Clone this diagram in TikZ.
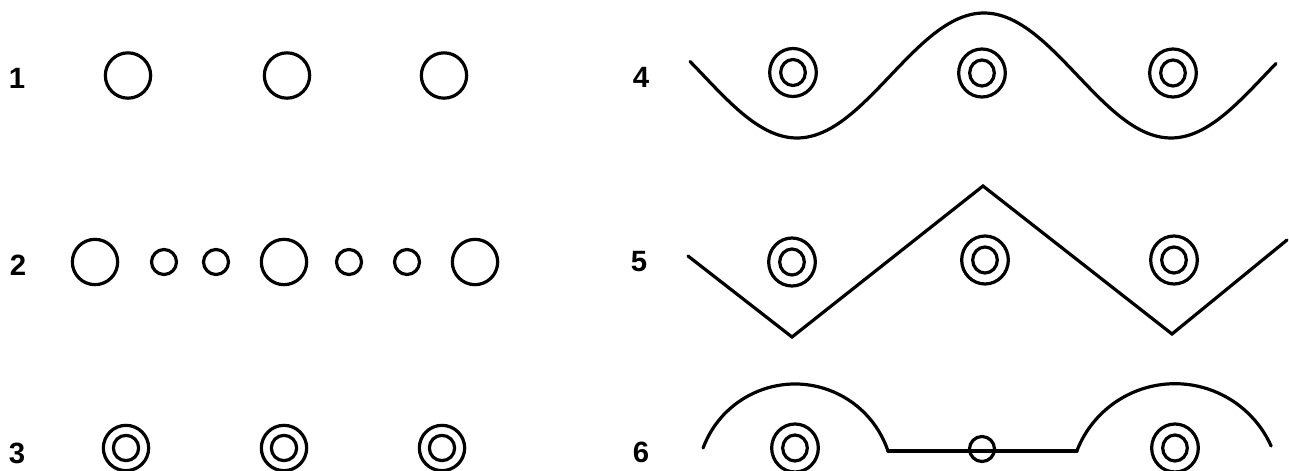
\documentclass[tikz,border=0pt]{standalone}
\usepackage{fontspec}
\setmainfont{Liberation Sans}
\usetikzlibrary{shapes.geometric}
\begin{document}
\begin{tikzpicture}[x=0.75pt,y=-0.75pt,
  line width=2.4pt, line cap=round, line join=round,
  num/.style={font=\fontsize{22}{22}\selectfont\bfseries, inner sep=0pt},
  bigring/.style={circle, draw, inner sep=0pt, minimum size=34pt},
  smallring/.style={circle, draw, inner sep=0pt, minimum size=18.75pt},
  outerring/.style={ellipse, draw, inner sep=0pt, minimum width=35pt, minimum height=36pt},
  innerring/.style={ellipse, draw, inner sep=0pt, minimum width=18.5pt, minimum height=19.5pt},
  rowthreeout/.style={circle, draw, inner sep=0pt, minimum size=34pt},
  rowthreein/.style={circle, draw, inner sep=0pt, minimum size=19pt}]
\useasboundingbox (0,0) rectangle (1289,471);
% labels
\node[num] (l1) at (17,78) {1};
\node[num] (l2) at (18,265) {2};
\node[num] (l3) at (17,453) {3};
\node[num] (l4) at (641,77) {4};
\node[num] (l5) at (639,262) {5};
\node[num] (l6) at (641,452) {6};
% row 1
\node[bigring] (a1) at (128,75.5) {};
\node[bigring] (a2) at (287,75.5) {};
\node[bigring] (a3) at (444,75.5) {};
% row 2
\node[bigring] (b1) at (95,262) {};
\node[smallring] (b2) at (164,262) {};
\node[smallring] (b3) at (216,262) {};
\node[bigring] (b4) at (284,262) {};
\node[smallring] (b5) at (349,262) {};
\node[smallring] (b6) at (407,262) {};
\node[bigring] (b7) at (475,262) {};
% row 3
\foreach \n/\x in {1/126,2/284,3/442}{
  \node[rowthreeout] (c\n o) at (\x,448) {};
  \node[rowthreein] (c\n i) at (\x,448) {};
}
% row 4
\foreach \n/\x/\y in {1/793/72.5,2/982/73,3/1173/73}{
  \node[outerring] (d\n o) at (\x,\y) {};
  \node[innerring] (d\n i) at (\x,\y) {};
}
\draw plot[domain=690:1276, samples=160, smooth] (\x, {75.5+62.5*cos((\x-797)/187*180)});
% row 5
\foreach \n/\x/\y in {1/792/262,2/985/260,3/1174/260}{
  \node[outerring] (e\n o) at (\x,\y) {};
  \node[innerring] (e\n i) at (\x,\y) {};
}
\coordinate (z1) at (688,256);
\coordinate (z2) at (792,337);
\coordinate (z3) at (983,186);
\coordinate (z4) at (1172,334);
\coordinate (z5) at (1287,240);
\draw[line join=miter] (z1) -- (z2) -- (z3) -- (z4) -- (z5);
% row 6
\foreach \n/\x in {1/795,2/1175}{
  \node[outerring] (f\n o) at (\x,448) {};
  \node[innerring] (f\n i) at (\x,448) {};
}
\coordinate (g1) at (888,451);
\coordinate (g2) at (1077,451);
\draw ([shift={(795,482)}]-159.7:98) arc[start angle=-159.7, end angle=-18.4, radius=98];
\draw (g1) -- (g2);
\draw ([shift={(1175,489)}]-158.8:105.3) arc[start angle=-158.8, end angle=-24.1, radius=105.3];
\node[smallring] (f3) at (982,449) {};
\end{tikzpicture}
\end{document}
